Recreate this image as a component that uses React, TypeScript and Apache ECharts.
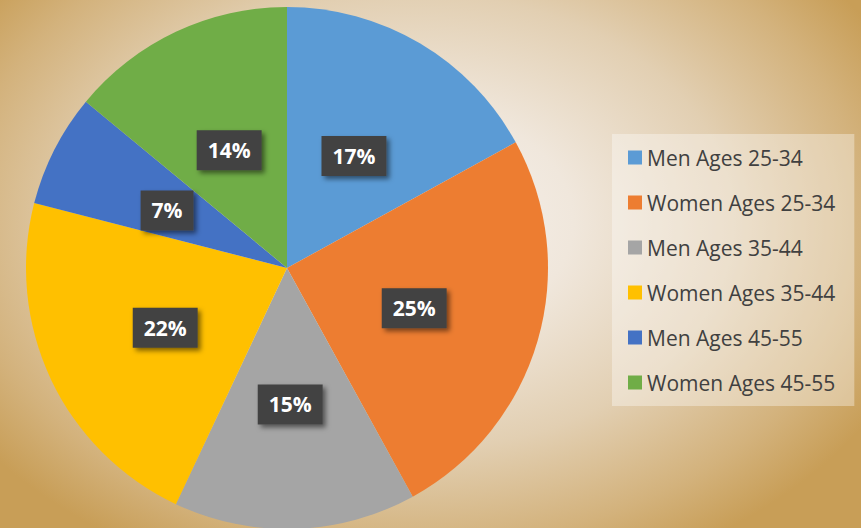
import React, { useEffect, useRef } from "react";
import * as echarts from "echarts";

const categories = [
  "Men Ages 25-34",
  "Women Ages 25-34",
  "Men Ages 35-44",
  "Women Ages 35-44",
  "Men Ages 45-55",
  "Women Ages 45-55",
];
const values = [17, 25, 15, 22, 7, 14];
const colors = ["#5B9BD5", "#ED7D31", "#A5A5A5", "#FFC000", "#4472C4", "#70AD47"];

export default function App() {
  const ref = useRef<HTMLDivElement>(null);
  useEffect(() => {
    document.body.style.margin = "0";
    const chart = echarts.init(ref.current!, undefined, { renderer: "svg" });
    chart.setOption({
      animation: false,
      legend: {
        orient: "vertical",
        left: 612,
        top: 134,
        padding: [13, 19, 13, 16],
        backgroundColor: "rgba(255,255,255,0.35)",
        itemWidth: 14,
        itemHeight: 14,
        itemGap: 24,
        icon: "rect",
        data: categories,
        textStyle: {
          fontFamily: "Open Sans",
          fontSize: 21,
          color: "#404040",
          lineHeight: 21,
        },
      },
      series: [
        {
          type: "pie",
          center: [287, 268],
          radius: [0, 261],
          startAngle: 90,
          clockwise: true,
          label: {
            show: true,
            position: "inside",
            formatter: "{c}%",
            color: "#ffffff",
            fontFamily: "Open Sans",
            fontWeight: "bold",
            fontSize: 21,
            lineHeight: 22,
            backgroundColor: "#424242",
            padding: [9, 11, 9, 11],
            shadowColor: "rgba(0,0,0,0.5)",
            shadowBlur: 5,
            shadowOffsetX: 3,
            shadowOffsetY: 3,
            offset: [-1, 3],
          },
          labelLine: { show: false },
          itemStyle: { borderWidth: 0 },
          emphasis: { disabled: true },
          data: categories.map((name, i) => ({
            name,
            value: values[i],
            itemStyle: { color: colors[i] },
          })),
        },
      ],
    });
    return () => chart.dispose();
  }, []);
  return (
    <div
      ref={ref}
      style={{
        position: "absolute",
        left: 0,
        top: 0,
        width: 861,
        height: 528,
        background:
          "radial-gradient(ellipse 62% 72% at 48% 42%, #f7f3ef 0%, #f0e7dc 30%, #e2cfb2 60%, #d3b27c 85%, #c89e57 100%)",
      }}
    />
  );
}
